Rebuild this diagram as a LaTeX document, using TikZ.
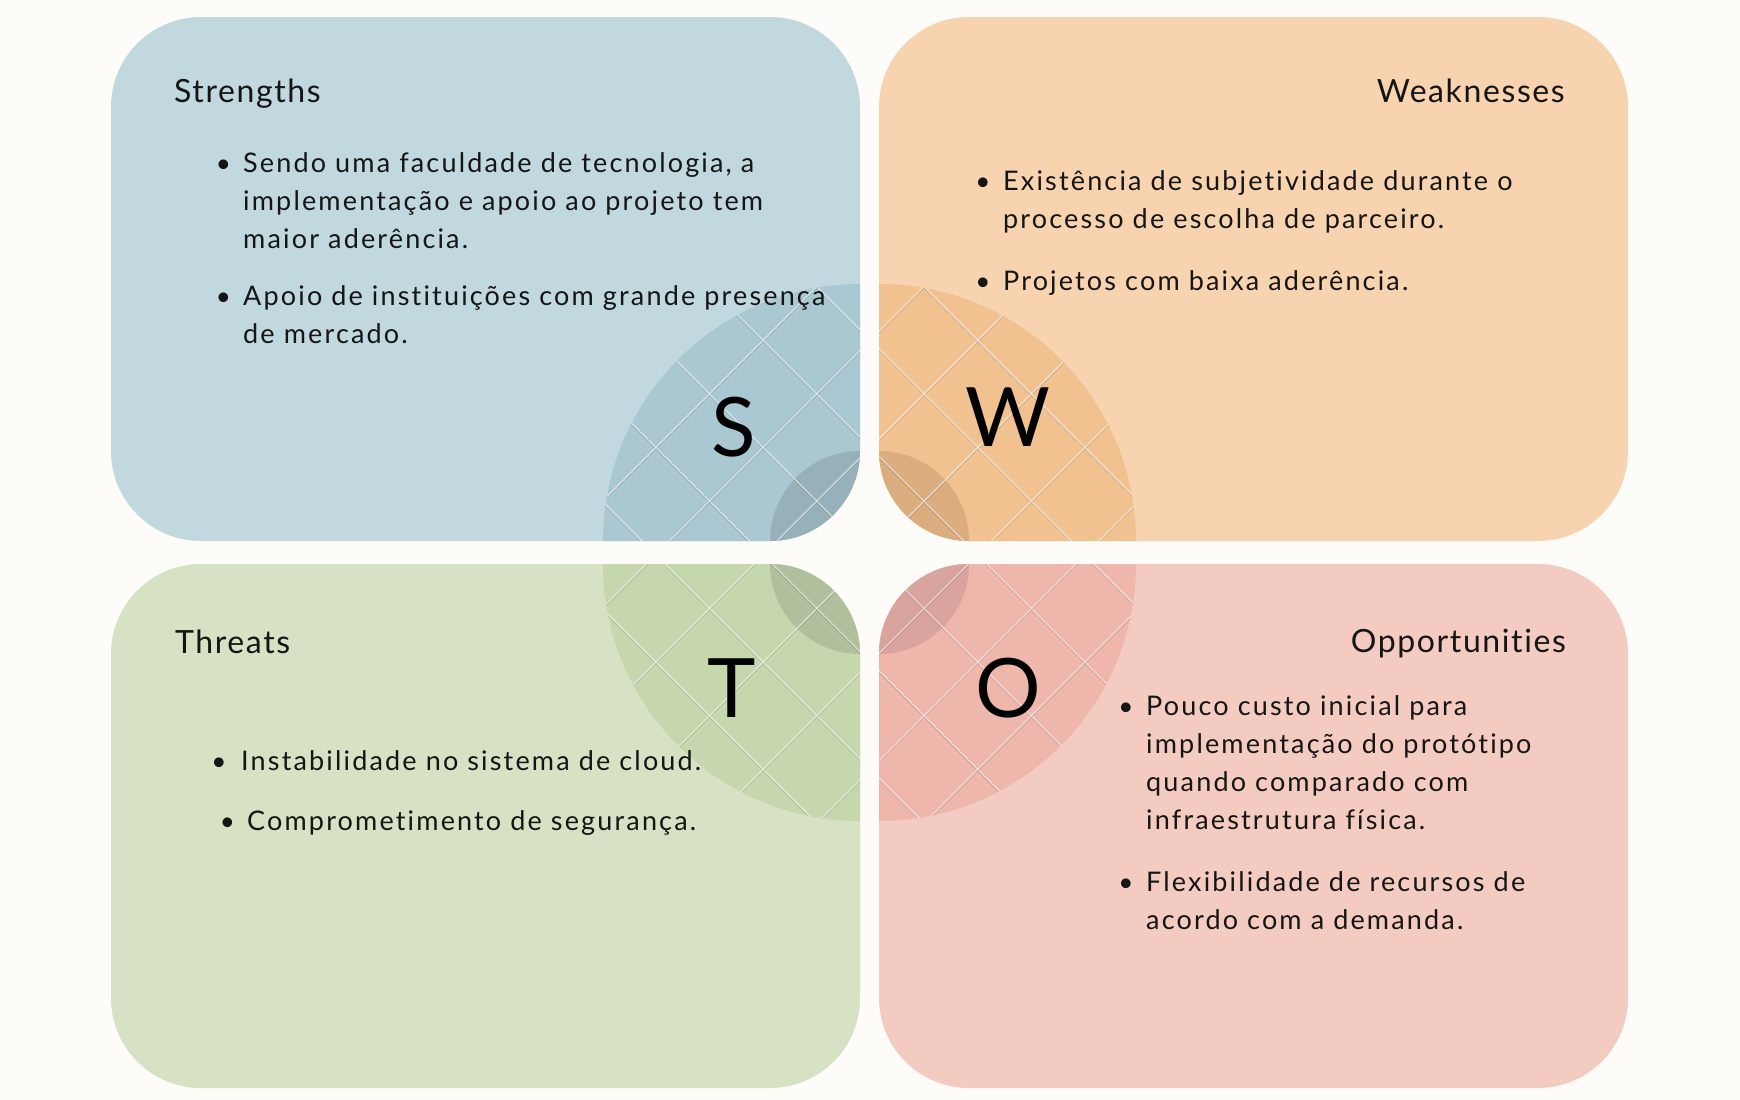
\documentclass[tikz,border=0pt]{standalone}
\usepackage{fontspec}
\setmainfont{Lato}[Ligatures={NoCommon,NoRequired,NoContextual}]
\newfontfamily\bodyfont{Lato}[Ligatures={NoCommon,NoRequired,NoContextual},LetterSpace=8]
\newfontfamily\headfont{Lato}[Ligatures={NoCommon,NoRequired,NoContextual},LetterSpace=5]
\definecolor{bgc}{HTML}{FDFCF8}
\definecolor{sbox}{HTML}{C2D8DF}
\definecolor{sbig}{HTML}{AAC8D2}
\definecolor{slens}{HTML}{96B1B9}
\definecolor{wbox}{HTML}{F7D4AF}
\definecolor{wbig}{HTML}{F2C190}
\definecolor{wlens}{HTML}{DBAC7E}
\definecolor{tbox}{HTML}{D7E1C4}
\definecolor{tbig}{HTML}{C6D6AD}
\definecolor{tlens}{HTML}{B0C09C}
\definecolor{obox}{HTML}{F4CBC1}
\definecolor{obig}{HTML}{EFB6AB}
\definecolor{olens}{HTML}{D8A49D}
\definecolor{ink}{HTML}{151515}
\tikzset{
  txt/.style={anchor=base west, inner sep=0pt, text=ink, font=\bodyfont\fontsize{27}{30}\selectfont},
  bul/.style={anchor=base, inner sep=0pt, text=ink, font=\fontsize{26}{30}\selectfont},
  head/.style={anchor=base west, inner sep=0pt, text=ink, font=\headfont\fontsize{32}{36}\selectfont},
  bigletter/.style={anchor=center, inner sep=0pt, text=black, font=\fontsize{82}{90}\selectfont},
  gridlight/.style={white, opacity=0.6, line width=1.3pt},
  griddark/.style={black, opacity=0.18, line width=1pt},
  boxshape/.style={rounded corners=90pt}
}
\newcommand\swotquad[9]{%
  \fill[#1, boxshape] (#4,#5) rectangle (#6,#7);
  \begin{scope}
    \clip[boxshape] (#4,#5) rectangle (#6,#7);
    \fill[#2] (#8,#9) circle[radius=257pt];
    \fill[#3] (#8,#9) circle[radius=90pt];
    \clip (#8,#9) circle[radius=257pt];
    \foreach \k in {-14,...,16} {
      \pgfmathsetmacro\aa{315.5+107.3*\k}
      \pgfmathsetmacro\bb{1103.5+107.3*\k}
      \draw[griddark] (\aa,1) -- ++(1100,1100);
      \draw[griddark] (\bb,1) -- ++(-1100,1100);
      \draw[gridlight] (\aa,0) -- ++(1100,1100);
      \draw[gridlight] (\bb,0) -- ++(-1100,1100);
    }
  \end{scope}
}
\begin{document}
\begin{tikzpicture}[x=1pt,y=-1pt]
\useasboundingbox (0,0) rectangle (1740,1100);
\fill[bgc] (0,0) rectangle (1740,1100);

\swotquad{sbox}{sbig}{slens}{111}{17}{860}{541}{860}{541}
\swotquad{wbox}{wbig}{wlens}{879}{17}{1628}{541}{879}{541}
\swotquad{tbox}{tbig}{tlens}{111}{564}{860}{1088}{860}{564}
\swotquad{obox}{obig}{olens}{879}{564}{1628}{1088}{879}{564}

% big letters
\node[bigletter] (S) at (734,427) {S};
\node[bigletter] (W) at (1008,417) {W};
\node[bigletter] (T) at (732,688) {T};
\node[bigletter] (O) at (1008,688) {O};

% Strengths
\node[head] (sh) at (174,102) {Strengths};
\node[bul] (sb1) at (223.5,172) {•};
\node[txt] (s1a) at (243,172) {Sendo uma faculdade de tecnologia, a};
\node[txt] (s1b) at (243,210) {implementação e apoio ao projeto tem};
\node[txt] (s1c) at (243,248) {maior aderência.};
\node[bul] (sb2) at (223.5,305) {•};
\node[txt] (s2a) at (243,305) {Apoio de instituições com grande presença};
\node[txt] (s2b) at (243,343) {de mercado.};

% Weaknesses
\node[head, anchor=base east] (wh) at (1565,102) {Weaknesses};
\node[bul] (wb1) at (983,190) {•};
\node[txt] (w1a) at (1003,190) {Existência de subjetividade durante o};
\node[txt] (w1b) at (1003,228) {processo de escolha de parceiro.};
\node[bul] (wb2) at (983,290) {•};
\node[txt] (w2a) at (1003,290) {Projetos com baixa aderência.};

% Threats
\node[head] (th) at (175,653) {Threats};
\node[bul] (tb1) at (219,770) {•};
\node[txt] (t1a) at (241,770) {Instabilidade no sistema de cloud.};
\node[bul] (tb2) at (227.5,830) {•};
\node[txt] (t2a) at (247,830) {Comprometimento de segurança.};

% Opportunities
\node[head, anchor=base east] (oh) at (1566,652) {Opportunities};
\node[bul] (ob1) at (1126,715) {•};
\node[txt] (o1a) at (1146,715) {Pouco custo inicial para};
\node[txt] (o1b) at (1146,753) {implementação do protótipo};
\node[txt] (o1c) at (1146,791) {quando comparado com};
\node[txt] (o1d) at (1146,829) {infraestrutura física.};
\node[bul] (ob2) at (1126,891) {•};
\node[txt] (o2a) at (1146,891) {Flexibilidade de recursos de};
\node[txt] (o2b) at (1146,929) {acordo com a demanda.};
\end{tikzpicture}
\end{document}
